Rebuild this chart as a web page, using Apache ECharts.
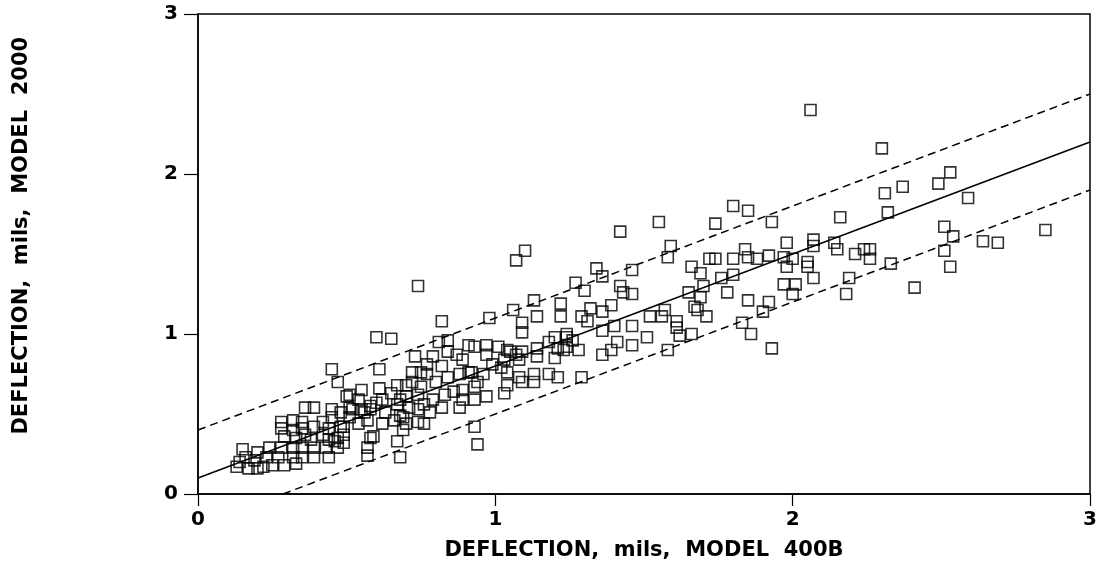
<!DOCTYPE html>
<html>
<head>
<meta charset="utf-8">
<script src="https://cdn.jsdelivr.net/npm/echarts@6/dist/echarts.min.js"></script>
<style>
  html, body { margin: 0; padding: 0; background: #fff; }
  #chart { width: 1100px; height: 569px; }
</style>
</head>
<body>
<div id="chart"></div>
<script>
// deflection pairs [Model 400B, Model 2000], mils
const points = [
  [0.13,0.17],[0.14,0.20],[0.16,0.23],[0.15,0.28],[0.17,0.16],[0.20,0.16],[0.19,0.21],[0.20,0.26],
  [0.22,0.17],[0.23,0.23],[0.24,0.29],[0.25,0.18],[0.27,0.23],[0.29,0.18],[0.28,0.29],[0.28,0.41],
  [0.29,0.36],[0.28,0.45],[0.32,0.46],[0.32,0.40],[0.32,0.29],[0.32,0.23],[0.33,0.19],[0.33,0.35],
  [0.35,0.45],[0.35,0.41],[0.35,0.29],[0.35,0.23],[0.36,0.54],[0.36,0.37],[0.38,0.34],[0.39,0.54],
  [0.39,0.29],[0.39,0.42],[0.39,0.23],[0.42,0.37],[0.42,0.45],[0.43,0.29],[0.44,0.34],[0.44,0.41],
  [0.44,0.23],[0.45,0.53],[0.45,0.48],[0.45,0.78],[0.47,0.70],[0.47,0.29],[0.47,0.35],[0.48,0.51],
  [0.48,0.42],[0.49,0.42],[0.49,0.32],[0.49,0.37],[0.46,0.33],[0.50,0.61],[0.51,0.54],[0.51,0.48],
  [0.51,0.62],[0.52,0.53],[0.54,0.59],[0.54,0.44],[0.55,0.53],[0.55,0.65],[0.56,0.51],[0.57,0.29],
  [0.57,0.46],[0.57,0.24],[0.58,0.53],[0.58,0.35],[0.59,0.36],[0.58,0.55],[0.60,0.57],[0.61,0.66],
  [0.61,0.78],[0.60,0.98],[0.63,0.51],[0.62,0.44],[0.62,0.59],[0.65,0.97],[0.65,0.63],[0.66,0.46],
  [0.67,0.33],[0.67,0.68],[0.67,0.56],[0.68,0.49],[0.68,0.23],[0.68,0.59],[0.69,0.40],[0.69,0.48],
  [0.70,0.44],[0.70,0.61],[0.70,0.68],[0.71,0.54],[0.72,0.70],[0.72,0.76],[0.73,0.86],[0.74,0.62],
  [0.74,0.53],[0.74,0.45],[0.74,1.30],[0.75,0.67],[0.75,0.76],[0.76,0.56],[0.76,0.44],[0.77,0.81],
  [0.77,0.75],[0.78,0.51],[0.79,0.59],[0.79,0.86],[0.80,0.70],[0.81,0.95],[0.82,1.08],[0.82,0.80],
  [0.82,0.54],[0.83,0.62],[0.84,0.89],[0.84,0.73],[0.84,0.96],[0.86,0.64],[0.87,0.87],[0.88,0.75],
  [0.88,0.54],[0.89,0.84],[0.89,0.65],[0.89,0.59],[0.91,0.93],[0.91,0.76],[0.92,0.76],[0.93,0.67],
  [0.93,0.59],[0.93,0.92],[0.93,0.42],[0.94,0.31],[0.94,0.70],[0.96,0.75],[0.97,0.93],[0.97,0.87],
  [0.97,0.61],[0.98,1.10],[0.99,0.81],[1.01,0.92],[1.02,0.79],[1.03,0.84],[1.03,0.63],[1.04,0.68],
  [1.04,0.90],[1.04,0.76],[1.05,0.89],[1.06,1.15],[1.07,1.46],[1.07,0.87],[1.08,0.73],[1.08,0.84],
  [1.09,1.07],[1.09,1.01],[1.09,0.89],[1.09,0.70],[1.10,1.52],[1.13,1.21],[1.13,0.75],[1.13,0.70],
  [1.14,1.11],[1.14,0.91],[1.14,0.86],[1.18,0.95],[1.18,0.75],[1.20,0.85],[1.20,0.98],[1.21,0.91],
  [1.21,0.73],[1.22,1.19],[1.22,1.11],[1.23,0.90],[1.24,0.98],[1.24,0.92],[1.24,1.00],[1.26,0.96],
  [1.27,1.32],[1.28,0.90],[1.29,1.11],[1.29,0.73],[1.30,1.27],[1.31,1.08],[1.32,1.16],[1.34,1.41],
  [1.36,1.36],[1.36,1.14],[1.36,1.02],[1.36,0.87],[1.39,1.18],[1.39,0.90],[1.40,1.05],[1.41,0.95],
  [1.42,1.30],[1.42,1.64],[1.43,1.26],[1.46,0.93],[1.46,1.40],[1.46,1.25],[1.46,1.05],[1.51,0.98],
  [1.52,1.11],[1.55,1.70],[1.56,1.11],[1.57,1.15],[1.58,0.90],[1.59,1.55],[1.58,1.48],[1.61,1.08],
  [1.61,1.04],[1.62,0.99],[1.65,1.26],[1.66,1.42],[1.66,1.00],[1.67,1.17],[1.68,1.15],[1.69,1.38],
  [1.69,1.23],[1.70,1.30],[1.71,1.11],[1.72,1.47],[1.74,1.47],[1.74,1.69],[1.76,1.35],[1.78,1.26],
  [1.80,1.47],[1.80,1.37],[1.80,1.80],[1.83,1.07],[1.84,1.53],[1.85,1.48],[1.85,1.21],[1.85,1.77],
  [1.86,1.00],[1.88,1.47],[1.90,1.14],[1.92,1.49],[1.92,1.20],[1.93,0.91],[1.93,1.70],[1.97,1.48],
  [1.97,1.31],[1.98,1.57],[1.98,1.42],[2.00,1.47],[2.00,1.25],[2.01,1.31],[2.05,1.42],[2.05,1.45],
  [2.06,2.40],[2.07,1.35],[2.07,1.59],[2.07,1.55],[2.14,1.57],[2.15,1.53],[2.16,1.73],[2.18,1.25],
  [2.19,1.35],[2.21,1.50],[2.24,1.53],[2.26,1.53],[2.26,1.47],[2.30,2.16],[2.31,1.88],[2.32,1.76],
  [2.33,1.44],[2.37,1.92],[2.41,1.29],[2.49,1.94],[2.53,2.01],[2.59,1.85],[2.51,1.67],[2.54,1.61],
  [2.51,1.52],[2.53,1.42],[2.64,1.58],[2.69,1.57],[2.85,1.65]
];

// regression line and its bounds
const fitLine = [[0, 0.1], [3, 2.2]];
const upperBound = [[0, 0.4], [3, 2.5]];
const lowerBound = [[0.286, 0], [3, 1.9]];

const xTicks = [0, 1, 2, 3];
const yTicks = [0, 1, 2, 3];

const font = '"DejaVu Sans", "Liberation Sans", sans-serif';

const chart = echarts.init(document.getElementById('chart'));
chart.setOption({
  animation: false,
  backgroundColor: '#fff',
  grid: {
    left: 198, right: 10, top: 14, bottom: 75,
    show: true, borderColor: '#000', borderWidth: 1.5
  },
  xAxis: {
    type: 'value',
    min: xTicks[0], max: xTicks[xTicks.length - 1], interval: 1,
    name: 'DEFLECTION,  mils,  MODEL  400B',
    nameLocation: 'middle', nameGap: 46,
    nameTextStyle: { fontFamily: font, fontWeight: 'bold', fontSize: 21, color: '#000' },
    axisLine: { lineStyle: { color: '#000', width: 1.5 } },
    axisTick: { inside: false, length: 12, lineStyle: { color: '#000', width: 1.2 } },
    axisLabel: { margin: 16, fontFamily: font, fontWeight: 'bold', fontSize: 20, color: '#000' },
    splitLine: { show: false }
  },
  yAxis: {
    type: 'value',
    min: yTicks[0], max: yTicks[yTicks.length - 1], interval: 1,
    name: '     DEFLECTION,  mils,  MODEL  2000',
    nameLocation: 'middle', nameGap: 166,
    nameTextStyle: { fontFamily: font, fontWeight: 'bold', fontSize: 21, color: '#000' },
    axisLine: { lineStyle: { color: '#000', width: 1.5 } },
    axisTick: { inside: false, length: 14, lineStyle: { color: '#000', width: 1.2 } },
    axisLabel: { margin: 20, fontFamily: font, fontWeight: 'bold', fontSize: 20, color: '#000' },
    splitLine: { show: false }
  },
  series: [
    {
      type: 'line', data: fitLine, symbol: 'none', silent: true,
      lineStyle: { color: '#000', width: 1.5 }
    },
    {
      type: 'line', data: upperBound, symbol: 'none', silent: true,
      lineStyle: { color: '#000', width: 1.5, type: [8, 5] }
    },
    {
      type: 'line', data: lowerBound, symbol: 'none', silent: true,
      lineStyle: { color: '#000', width: 1.5, type: [8, 5] }
    },
    {
      type: 'scatter', data: points, symbol: 'rect', symbolSize: 11,
      itemStyle: { color: 'rgba(255,255,255,0)', borderColor: '#000', borderWidth: 1.6 }
    }
  ]
});
</script>
</body>
</html>
